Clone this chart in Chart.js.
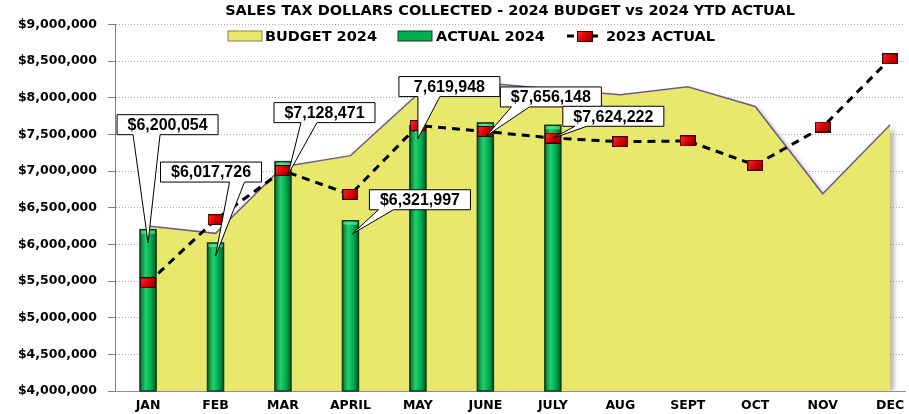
<!DOCTYPE html>
<html>
<head>
<meta charset="utf-8">
<script src="https://cdn.jsdelivr.net/npm/chart.js@4.4.1/dist/chart.umd.min.js"></script>
<style>
  html, body { margin: 0; padding: 0; background: #fff; }
</style>
</head>
<body>
<canvas id="salesTax" width="909" height="414"></canvas>
<script>
const months = ['JAN', 'FEB', 'MAR', 'APRIL', 'MAY', 'JUNE', 'JULY', 'AUG', 'SEPT', 'OCT', 'NOV', 'DEC'];
const budget2024 = [6250000, 6150000, 7060000, 7210000, 8050000, 8200000, 8120000, 8040000, 8150000, 7880000, 6690000, 7630000];
const actual2024 = [6200054, 6017726, 7128471, 6321997, 7619948, 7656148, 7624222, null, null, null, null, null];
const actual2023 = [5475000, 6336000, 7005000, 6680000, 7620000, 7540000, 7450000, 7400000, 7410000, 7080000, 7600000, 8530000];
const calloutLabels = ['$6,200,054', '$6,017,726', '$7,128,471', '$6,321,997', '7,619,948', '$7,656,148', '$7,624,222'];
const seriesNames = ['BUDGET 2024', 'ACTUAL 2024', '2023 ACTUAL'];

const WIDE = '"DejaVu Sans", Verdana, sans-serif';
const ARIAL = '"Liberation Sans", Arial, sans-serif';

// red square marker for the 2023 line
function makeMarker() {
  const c = document.createElement('canvas');
  c.width = 16; c.height = 11;
  const g = c.getContext('2d');
  const grd = g.createLinearGradient(0, 0, 16, 11);
  grd.addColorStop(0, '#ff3030');
  grd.addColorStop(0.5, '#d80000');
  grd.addColorStop(1, '#7a0000');
  g.fillStyle = grd;
  g.fillRect(0.5, 0.5, 15, 10);
  g.strokeStyle = '#3a0000';
  g.lineWidth = 1;
  g.strokeRect(0.5, 0.5, 15, 10);
  return c;
}
const marker = makeMarker();

// box placement for each data callout, relative to the bar top
const calloutBoxes = [
  { tipDx: 0, dx: -31, dy: -128, w0: 16, w1: 43 },
  { tipDx: 0, dx: -55, dy: -94, w0: 69, w1: 84 },
  { tipDx: 5, dx: -14, dy: -72, w0: 27, w1: 43 },
  { tipDx: 2, dx: 17, dy: -44, w0: 9, w1: 24 },
  { tipDx: 0, dx: -19, dy: -62, w0: 19, w1: 41 },
  { tipDx: 1, dx: 14, dy: -49, w0: 11, w1: 29 },
  { tipDx: 0, dx: 10, dy: -32, w0: 12, w1: 24 }
];

const decorations = {
  id: 'decorations',
  beforeDatasetsDraw(chart) {
    // soft shadow behind the budget area
    const ctx = chart.ctx, area = chart.chartArea;
    const pts = chart.getDatasetMeta(0).data;
    ctx.save();
    ctx.beginPath();
    ctx.rect(area.left, area.top, area.right - area.left + 10, area.bottom - area.top);
    ctx.clip();
    ctx.filter = 'blur(2px)';
    ctx.fillStyle = 'rgba(60,60,40,0.35)';
    ctx.beginPath();
    ctx.moveTo(pts[0].x + 4, area.bottom);
    pts.forEach(p => ctx.lineTo(p.x + 4, p.y + 3));
    ctx.lineTo(pts[pts.length - 1].x + 4, area.bottom);
    ctx.closePath();
    ctx.fill();
    ctx.restore();
  },
  afterDatasetDraw(chart, args) {
    if (args.index !== 1) return;
    const ctx = chart.ctx, area = chart.chartArea;
    ctx.save();
    args.meta.data.forEach((bar, i) => {
      if (actual2024[i] == null) return;
      const w = bar.width, x0 = bar.x - w / 2;
      const bottom = Math.min(bar.base, area.bottom);
      const grd = ctx.createLinearGradient(x0, 0, x0 + w, 0);
      grd.addColorStop(0, '#00702f');
      grd.addColorStop(0.35, '#22cf6c');
      grd.addColorStop(0.65, '#00b452');
      grd.addColorStop(1, '#005f27');
      ctx.fillStyle = grd;
      ctx.fillRect(x0, bar.y, w, bottom - bar.y);
      ctx.strokeStyle = '#163c1e';
      ctx.lineWidth = 1.5;
      ctx.strokeRect(x0, bar.y, w, bottom - bar.y);
      ctx.fillStyle = 'rgba(120,240,160,0.6)';
      ctx.fillRect(x0 + 1, bar.y + 1, w - 2, 3);
    });
    ctx.restore();
  },
  afterDraw(chart) {
    const ctx = chart.ctx;
    const bars = chart.getDatasetMeta(1).data;
    ctx.save();
    ctx.font = 'bold 16px ' + ARIAL;
    ctx.textAlign = 'center';
    ctx.textBaseline = 'middle';
    calloutLabels.forEach((label, i) => {
      const b = calloutBoxes[i], bar = bars[i];
      const tx = bar.x + b.tipDx, ty = bar.y + 13;
      const left = tx + b.dx, top = ty + b.dy, w = 101, h = 20;
      ctx.beginPath();
      ctx.moveTo(left, top);
      ctx.lineTo(left + w, top);
      ctx.lineTo(left + w, top + h);
      ctx.lineTo(left + b.w1, top + h);
      ctx.lineTo(tx, ty);
      ctx.lineTo(left + b.w0, top + h);
      ctx.lineTo(left, top + h);
      ctx.closePath();
      ctx.fillStyle = '#fff';
      ctx.fill();
      ctx.strokeStyle = '#000';
      ctx.lineWidth = 1;
      ctx.stroke();
      ctx.fillStyle = '#000';
      ctx.fillText(label, left + w / 2, top + h / 2 + 1);
    });

    // legend inside the plot
    const ly = 36;
    ctx.font = 'bold 14.5px ' + WIDE;
    ctx.textAlign = 'left';
    ctx.fillStyle = '#e8e86c';
    ctx.fillRect(228, ly - 5, 34, 10);
    ctx.strokeStyle = '#8a8050';
    ctx.strokeRect(228, ly - 5, 34, 10);
    ctx.fillStyle = '#000';
    ctx.fillText(seriesNames[0], 265, ly + 1);

    ctx.fillStyle = '#00b050';
    ctx.fillRect(398, ly - 5, 34, 10);
    ctx.strokeStyle = '#163c1e';
    ctx.strokeRect(398, ly - 5, 34, 10);
    ctx.fillStyle = '#000';
    ctx.fillText(seriesNames[1], 436, ly + 1);

    ctx.strokeStyle = '#000';
    ctx.lineWidth = 3;
    ctx.setLineDash([7, 5]);
    ctx.beginPath();
    ctx.moveTo(567, ly);
    ctx.lineTo(603, ly);
    ctx.stroke();
    ctx.setLineDash([]);
    ctx.drawImage(marker, 577, ly - 5);
    ctx.fillText(seriesNames[2], 606, ly + 1);
    ctx.restore();
  }
};

const ctx = document.getElementById('salesTax').getContext('2d');
new Chart(ctx, {
  data: {
    datasets: [
      {
        type: 'line',
        label: seriesNames[0],
        data: budget2024.map((v, i) => ({ x: i, y: v })),
        borderColor: '#6d5d8c',
        borderWidth: 1.5,
        backgroundColor: '#e8e86c',
        fill: 'start',
        pointRadius: 0,
        tension: 0,
        order: 3
      },
      {
        type: 'bar',
        label: seriesNames[1],
        data: actual2024.map((v, i) => ({ x: i, y: v })),
        backgroundColor: '#00ad4e',
        borderWidth: 0,
        barThickness: 16,
        order: 2
      },
      {
        type: 'line',
        label: seriesNames[2],
        data: actual2023.map((v, i) => ({ x: i, y: v })),
        borderColor: '#000',
        borderWidth: 3,
        borderDash: [8, 6],
        pointStyle: marker,
        pointRadius: 8,
        fill: false,
        tension: 0,
        order: 1
      }
    ]
  },
  plugins: [decorations],
  options: {
    responsive: false,
    animation: false,
    layout: { autoPadding: false, padding: { right: 4 } },
    plugins: {
      legend: { display: false },
      tooltip: { enabled: false },
      title: {
        display: true,
        fullSize: false,
        text: 'SALES TAX DOLLARS COLLECTED - 2024 BUDGET vs 2024 YTD ACTUAL',
        color: '#000',
        font: { family: WIDE, size: 14.5, weight: 'bold' },
        padding: { top: 3, bottom: 4 }
      }
    },
    scales: {
      x: {
        type: 'linear',
        offset: false,
        min: -0.49,
        max: 11.22,
        grid: { display: false, drawTicks: false },
        border: { color: '#909090', width: 1 },
        afterFit: scale => { scale.height = 23; scale.paddingLeft = 0; scale.paddingRight = 0; },
        ticks: {
          stepSize: 1,
          includeBounds: false,
          autoSkip: false,
          maxRotation: 0,
          padding: 7,
          color: '#000',
          font: { family: WIDE, size: 12.5, weight: 'bold' },
          callback: v => Number.isInteger(v) ? months[v] : ''
        }
      },
      y: {
        min: 4000000,
        max: 9000000,
        grid: { color: '#a8a8a8', tickColor: '#808080', tickLength: 7 },
        border: { color: '#808080', width: 1, dash: [1, 2] },
        afterFit: scale => { scale.width = 115; },
        ticks: {
          stepSize: 500000,
          padding: 11,
          color: '#000',
          font: { family: WIDE, size: 12.5, weight: 'bold' },
          callback: v => '$' + v.toLocaleString('en-US')
        }
      }
    }
  }
});
</script>
</body>
</html>
